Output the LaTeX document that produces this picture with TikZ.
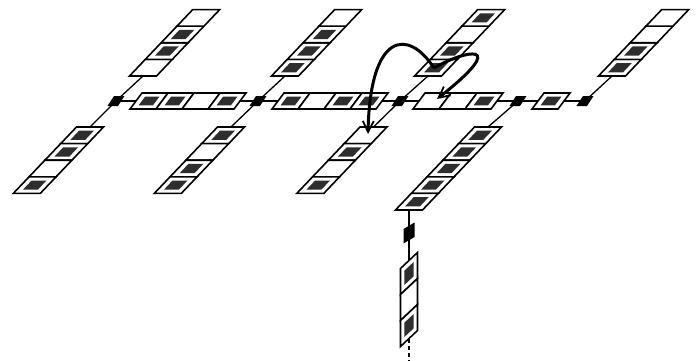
\documentclass[tikz,border=0pt]{standalone}
\usetikzlibrary{arrows.meta}
\begin{document}
\begin{tikzpicture}[x=1pt,y=-1pt,
  cellline/.style={draw=black,line width=1.6pt,fill=white,line join=miter},
  innerfill/.style={fill=black!82},
  conn/.style={draw=black,line width=1.3pt},
  jfill/.style={fill=black},
  bigarrow/.style={draw=black,line width=3pt,-{Straight Barb[length=11pt,width=11pt,line width=1.8pt]}},
  pics/cc/.style={code={\path[cellline] (-21.4,8.3) -- (5.6,8.3) -- (21.4,-8.3) -- (-5.6,-8.3) -- cycle;
     \ifnum#1=1 \path[innerfill] (-11.8,4.6) -- (3.1,4.6) -- (11.8,-4.6) -- (-3.1,-4.6) -- cycle;\fi}},
  pics/rc/.style={code={\path[cellline] (-19,8) -- (7,8) -- (19,-8) -- (-7,-8) -- cycle;
     \ifnum#1=1 \path[innerfill] (-10.45,4.4) -- (3.85,4.4) -- (10.45,-4.4) -- (-3.85,-4.4) -- cycle;\fi}},
  pics/vc/.style={code={\path[cellline] (-8.5,-5) -- (8.5,-21) -- (8.5,5) -- (-8.5,21) -- cycle;
     \ifnum#1=1 \path[innerfill] (-4.7,-2.75) -- (4.7,-11.55) -- (4.7,2.75) -- (-4.7,11.55) -- cycle;\fi}},
  pics/hj/.style={code={\path[jfill] (-8.5,5) -- (2,5) -- (8.5,-5) -- (-2,-5) -- cycle;}},
  pics/vj/.style={code={\path[jfill] (-5.5,-4) -- (5.5,-10.5) -- (5.5,4) -- (-5.5,10.5) -- cycle;}},
]
\useasboundingbox (0,0) rectangle (698,361);
% junctions
\coordinate (J1) at (116,101);
\coordinate (J2) at (258,101);
\coordinate (J3) at (400,101);
\coordinate (J4) at (518,101);
\coordinate (J5) at (585,101);
\coordinate (J6) at (409,233);
% column ends
\coordinate (C1b) at (143,76);
\coordinate (C2b) at (285,76);
\coordinate (C3b) at (428,76);
\coordinate (C5b) at (612,76);
\coordinate (D1t) at (90,127);
\coordinate (D2t) at (231,127);
\coordinate (D3t) at (373.5,127);
\coordinate (D4t) at (488,127);
\coordinate (D4b) at (409,210);
\coordinate (Vt) at (409,260.5);
\coordinate (Vb) at (409,338.5);
\coordinate (Vend) at (409,361);
% arrow ends
\coordinate (A0) at (434,68);
\coordinate (T1) at (368,134);
\coordinate (T2) at (437,99);

% connectors
\draw[conn] (J1) -- (J5);
\draw[conn] (J1) -- (C1b);
\draw[conn] (J1) -- (D1t);
\draw[conn] (J2) -- (C2b);
\draw[conn] (J2) -- (D2t);
\draw[conn] (J3) -- (C3b);
\draw[conn] (J3) -- (D3t);
\draw[conn] (J4) -- (D4t);
\draw[conn] (J5) -- (C5b);
\draw[conn] (D4b) -- (J6) -- (Vt);
\draw[conn,dash pattern=on 4pt off 3pt] (Vb) -- (Vend);

% horizontal row cells
\foreach \x/\f in {149/1,175/1,201/0,227/1,291/1,317/0,343/1,369/1,432/0,458/0,484/1,551/1}
  \pic at (\x,101) {rc=\f};

% up columns (bottom to top)
\foreach \f [count=\i from 0] in {0,1,1,0}
  \pic at ([shift={(7.9+15.8*\i,-8.3-16.6*\i)}]C1b) {cc=\f};
\foreach \f [count=\i from 0] in {1,1,1,0}
  \pic at ([shift={(7.9+15.8*\i,-8.3-16.6*\i)}]C2b) {cc=\f};
\foreach \f [count=\i from 0] in {1,1,0,1}
  \pic at ([shift={(7.9+15.8*\i,-8.3-16.6*\i)}]C3b) {cc=\f};
\foreach \f [count=\i from 0] in {1,1,0,0}
  \pic at ([shift={(7.9+15.8*\i,-8.3-16.6*\i)}]C5b) {cc=\f};

% down columns (top to bottom)
\foreach \f [count=\i from 0] in {1,1,0,1}
  \pic at ([shift={(-7.9-15.8*\i,8.3+16.6*\i)}]D1t) {cc=\f};
\foreach \f [count=\i from 0] in {1,0,1,1}
  \pic at ([shift={(-7.9-15.8*\i,8.3+16.6*\i)}]D2t) {cc=\f};
\foreach \f [count=\i from 0] in {0,1,0,1}
  \pic at ([shift={(-7.9-15.8*\i,8.3+16.6*\i)}]D3t) {cc=\f};
\foreach \f [count=\i from 0] in {1,1,1,1,1}
  \pic at ([shift={(-7.9-15.8*\i,8.3+16.6*\i)}]D4t) {cc=\f};

% vertical column
\foreach \f [count=\i from 0] in {1,0,1}
  \pic at ([shift={(0,13+26*\i)}]Vt) {vc=\f};

% junction marks
\foreach \j in {J1,J2,J3,J4,J5}
  \pic at (\j) {hj};
\pic at (J6) {vj};

% arrows
\draw[bigarrow] (A0) .. controls (408,28) and (370,32) .. (T1);
\draw[bigarrow] (A0) .. controls (465,50) and (512,40) .. (T2);
\end{tikzpicture}
\end{document}
